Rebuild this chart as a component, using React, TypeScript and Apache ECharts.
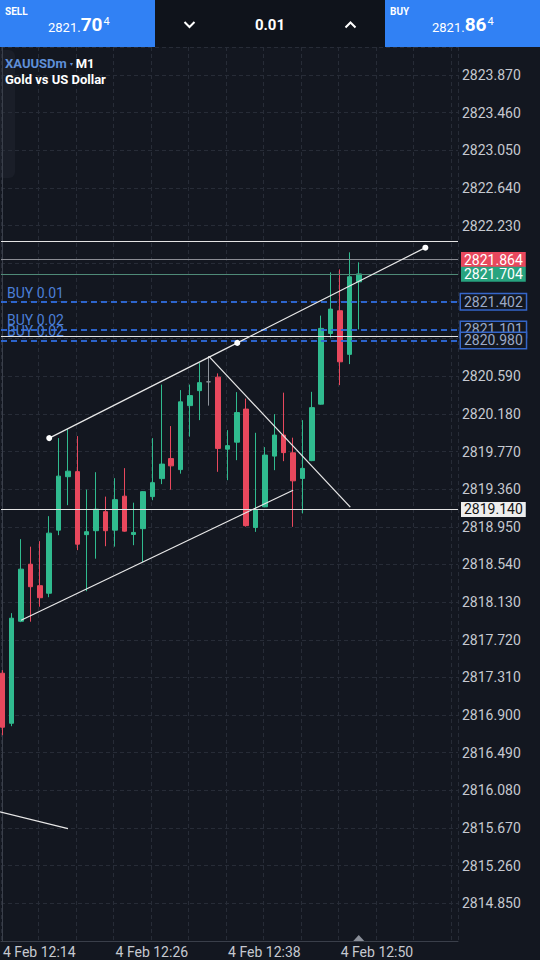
import React, { useEffect, useRef } from 'react';
import * as echarts from 'echarts';

// ---- data (M1 candles, minute index from 12:14) ----
const opens = [2817.356, 2816.811, 2817.922, 2818.543, 2818.309, 2818.227, 2818.914, 2819.496, 2819.551, 2818.865, 2818.908, 2819.115, 2818.914, 2819.284, 2818.867, 2818.930, 2819.279, 2819.475, 2819.693, 2819.573, 2820.270, 2820.433, 2820.529, 2820.580, 2819.796, 2819.872, 2820.232, 2818.943, 2819.168, 2819.720, 2819.949, 2819.756, 2819.477, 2819.671, 2820.286, 2821.056, 2821.303, 2820.828, 2821.618];
const closes = [2816.768, 2817.955, 2818.489, 2818.298, 2818.178, 2818.881, 2819.502, 2819.556, 2818.761, 2818.897, 2819.142, 2818.908, 2819.246, 2818.903, 2818.889, 2819.333, 2819.431, 2819.633, 2819.614, 2820.311, 2820.379, 2820.520, 2820.529, 2819.804, 2819.834, 2820.194, 2818.963, 2819.139, 2819.731, 2819.949, 2819.758, 2819.451, 2819.586, 2820.248, 2821.111, 2821.321, 2820.747, 2821.673, 2821.704];
const lows = [2816.681, 2816.779, 2817.912, 2817.917, 2818.080, 2818.184, 2818.859, 2819.186, 2818.696, 2818.249, 2818.603, 2818.739, 2818.734, 2818.897, 2818.750, 2818.565, 2819.240, 2819.415, 2819.355, 2819.529, 2819.932, 2820.112, 2820.270, 2819.549, 2819.458, 2819.676, 2818.952, 2818.895, 2819.164, 2819.567, 2819.665, 2818.950, 2819.096, 2819.665, 2820.281, 2821.011, 2820.493, 2820.722, 2821.100];
const highs = [2817.389, 2818.010, 2818.816, 2818.734, 2818.794, 2819.066, 2819.916, 2820.014, 2819.938, 2819.355, 2819.545, 2819.279, 2819.480, 2819.589, 2819.213, 2819.338, 2819.916, 2820.499, 2820.047, 2820.439, 2820.499, 2820.733, 2820.809, 2820.621, 2820.003, 2820.417, 2820.346, 2819.974, 2819.818, 2820.177, 2820.411, 2819.921, 2820.112, 2820.420, 2821.250, 2821.721, 2821.753, 2821.939, 2821.830];

const timeLabels = ['4 Feb 12:14', '4 Feb 12:26', '4 Feb 12:38', '4 Feb 12:50'];

const askPrice = 2821.864;
const bidPrice = 2821.704;
const orderPrices = [2821.402, 2821.101, 2820.980];
const orderLabels = ['BUY 0.01', 'BUY 0.02', 'BUY 0.02'];
const plainLines = [2822.062, 2821.027];
const labeledLine = 2819.140;

const upperChannel = [[5, 2819.916], [45.1, 2821.990]];
const lowerChannel = [[2, 2817.933], [31, 2819.349]];
const diagonalLine = [[22, 2820.809], [37.1, 2819.164]];
const oldLine = [[-1, 2815.864], [7, 2815.664]];

const sellParts = ['2821.', '70', '4'];
const buyParts = ['2821.', '86', '4'];
const lotText = '0.01';

// ---- axes ----
const XMIN = -0.14;
const XMAX = 48.58;
const XINT = 4;
const YMIN = 2814.44;
const YMAX = 2824.175;
const YINT = 0.41;

const BG = '#131720';
const GREEN = '#30bb8f';
const RED = '#e8485d';
const BLUE_HDR = '#3181f4';
const ORDER_BLUE = '#2f6ad8';
const FONT = 'Roboto, "Noto Sans", sans-serif';
const LABEL = '#c6c9d0';

export default function App() {
  const ref = useRef<HTMLDivElement>(null);
  useEffect(() => {
    const chart = echarts.init(ref.current!, undefined, { renderer: 'svg' });
    const candleData = opens.map((o, i) => [i, o, closes[i], lows[i], highs[i]]);
    const mid = [(upperChannel[0][0] + upperChannel[1][0]) / 2, (upperChannel[0][1] + upperChannel[1][1]) / 2];
    const boxedPrices = [askPrice, bidPrice, labeledLine, ...orderPrices];

    const boxLabel = (txt: string, bg: string, color: string, border?: string) => ({
      show: true,
      position: 'end',
      distance: 3,
      formatter: txt,
      backgroundColor: bg,
      color,
      borderColor: border || bg,
      borderWidth: border ? 1.5 : 0,
      padding: [1, 3, 0, 3],
      fontSize: 14,
      fontFamily: FONT,
    });

    const markData: any[] = [];
    plainLines.forEach((p) => markData.push({ yAxis: p, lineStyle: { color: '#e4e4e4', width: 1.2, type: 'solid' }, label: { show: false } }));
    markData.push({ yAxis: labeledLine, lineStyle: { color: '#e4e4e4', width: 1.2, type: 'solid' }, label: boxLabel(labeledLine.toFixed(3), '#eeeeee', '#141414') });
    orderPrices.forEach((p, i) => {
      markData.push({
        yAxis: p,
        lineStyle: { color: ORDER_BLUE, width: 1.5, type: [6, 4] },
        label: { show: true, position: 'insideStartTop', distance: [6, 2], formatter: orderLabels[i], color: '#4b7fd8', fontSize: 14, fontFamily: FONT },
      });
    });
    orderPrices.forEach((p) => {
      markData.push({
        yAxis: p,
        lineStyle: { color: ORDER_BLUE, width: 1.5, type: [6, 4] },
        label: boxLabel(p.toFixed(3), BG, '#9aa9c7', '#3566c9'),
      });
    });
    markData.push({ yAxis: askPrice, lineStyle: { color: '#8a8c93', width: 1, type: 'solid' }, label: boxLabel(askPrice.toFixed(3), RED, '#ffffff') });
    markData.push({ yAxis: bidPrice, lineStyle: { color: '#4f8a77', width: 1, type: 'solid' }, label: boxLabel(bidPrice.toFixed(3), '#27a37f', '#ffffff') });

    const option: any = {
      animation: false,
      backgroundColor: BG,
      textStyle: { fontFamily: FONT },
      grid: { left: 0, right: 82, top: 47, bottom: 19 },
      xAxis: {
        type: 'value',
        min: XMIN,
        max: XMAX,
        interval: XINT,
        axisLine: { show: true, lineStyle: { color: '#3a3f4a' } },
        axisTick: { show: false },
        splitLine: { show: true, lineStyle: { color: '#272c37', type: [4, 3], width: 1 } },
        axisLabel: {
          color: LABEL,
          fontSize: 14,
          fontFamily: FONT,
          align: 'left',
          margin: 4,
          padding: [0, 0, 0, 2],
          showMaxLabel: false,
          formatter: (v: number) => {
            const t = (v - XMIN) / XINT;
            const n = Math.round(t);
            if (Math.abs(t - n) > 0.01 || n % 3 !== 0) return '';
            return timeLabels[n / 3] || '';
          },
        },
      },
      yAxis: {
        type: 'value',
        position: 'right',
        min: YMIN,
        max: YMAX,
        interval: YINT,
        scale: true,
        axisLine: { show: true, lineStyle: { color: '#3a3f4a' } },
        axisTick: { show: false },
        splitLine: { show: true, lineStyle: { color: '#272c37', type: [4, 3], width: 1 } },
        axisLabel: {
          color: LABEL,
          fontSize: 14,
          fontFamily: FONT,
          margin: 4,
          showMinLabel: false,
          showMaxLabel: false,
          formatter: (v: number) => (boxedPrices.some((p) => Math.abs(p - v) < 0.09) ? '' : v.toFixed(3)),
        },
      },
      series: [
        {
          type: 'candlestick',
          data: candleData,
          encode: { x: 0, y: [1, 2, 3, 4] },
          barWidth: 5,
          silent: true,
          itemStyle: {
            color: GREEN,
            color0: RED,
            borderColor: GREEN,
            borderColor0: RED,
            borderColorDoji: '#8f949c',
            borderWidth: 1,
          },
          markLine: { symbol: ['none', 'none'], silent: true, animation: false, data: markData },
          markPoint: {
            silent: true,
            animation: false,
            data: [
              {
                coord: [opens.length - 1, YMIN],
                symbol: 'triangle',
                symbolSize: [11, 6],
                symbolOffset: [0, -3],
                itemStyle: { color: '#8a8f99' },
                label: { show: false },
              },
            ],
          },
        },
        {
          type: 'line',
          data: [upperChannel[0], mid, upperChannel[1]],
          symbol: 'circle',
          symbolSize: 6,
          showSymbol: true,
          silent: true,
          z: 5,
          lineStyle: { color: '#e8e8e8', width: 1.2 },
          itemStyle: { color: '#ffffff', borderWidth: 0 },
        },
        ...[lowerChannel, diagonalLine, oldLine].map((d) => ({
          type: 'line',
          data: d,
          showSymbol: false,
          symbol: 'none',
          silent: true,
          z: 5,
          lineStyle: { color: '#e8e8e8', width: 1.2 },
        })),
      ],
      graphic: [
        { type: 'rect', z: -1, shape: { x: -8, y: 50, width: 23, height: 128, r: 6 }, style: { fill: '#1a1e28' } },
        // header
        { type: 'rect', z: 100, shape: { x: 0, y: 0, width: 540, height: 47 }, style: { fill: '#0f131b' } },
        { type: 'rect', z: 101, shape: { x: 0, y: 0, width: 155, height: 47 }, style: { fill: BLUE_HDR } },
        { type: 'rect', z: 101, shape: { x: 385, y: 0, width: 155, height: 47 }, style: { fill: BLUE_HDR } },
        { type: 'text', z: 102, style: { x: 5, y: 6, text: 'SELL', fill: '#fff', fontSize: 10, fontWeight: 'bold', fontFamily: '"Liberation Sans Narrow", Roboto, sans-serif' } },
        { type: 'text', z: 102, style: { x: 390, y: 6, text: 'BUY', fill: '#fff', fontSize: 10, fontWeight: 'bold', fontFamily: '"Liberation Sans Narrow", Roboto, sans-serif' } },
        ...[[48, sellParts], [432, buyParts]].map(([x, parts]: any) => ({
          type: 'text',
          z: 102,
          style: {
            x,
            y: 14,
            text: `{a|${parts[0]}}{b|${parts[1]}}{c|${parts[2]}}`,
            fill: '#fff',
            fontFamily: FONT,
            rich: {
              a: { fontSize: 13, fill: '#fff', color: '#fff', verticalAlign: 'bottom', lineHeight: 20, fontFamily: FONT },
              b: { fontSize: 19, fontWeight: 'bold', fill: '#fff', color: '#fff', verticalAlign: 'bottom', lineHeight: 20, fontFamily: FONT },
              c: { fontSize: 11, fill: '#fff', color: '#fff', verticalAlign: 'top', lineHeight: 20, padding: [2, 0, 0, 1], fontFamily: FONT },
            },
          },
        })),
        { type: 'text', z: 102, style: { x: 270, y: 25, text: lotText, fill: '#fff', fontSize: 15, fontWeight: 'bold', fontFamily: FONT, align: 'center', verticalAlign: 'middle' } },
        { type: 'polyline', z: 102, shape: { points: [[184.5, 22], [189.5, 27], [194.5, 22]] }, style: { stroke: '#fff', lineWidth: 2, fill: 'none' } },
        { type: 'polyline', z: 102, shape: { points: [[345.5, 27.5], [350.5, 22.5], [355.5, 27.5]] }, style: { stroke: '#fff', lineWidth: 2, fill: 'none' } },
        // symbol title
        {
          type: 'text',
          z: 50,
          style: {
            x: 5,
            y: 57,
            text: '{s|XAUUSDm}{d|  ▾  }{m|M1}',
            fontFamily: FONT,
            rich: {
              s: { fontSize: 13, fontWeight: 'bold', fill: '#5f8fd8', color: '#5f8fd8', fontFamily: FONT },
              d: { fontSize: 6, fill: '#5f8fd8', color: '#5f8fd8', fontFamily: FONT },
              m: { fontSize: 13, fontWeight: 'bold', fill: '#fff', color: '#fff', fontFamily: FONT },
            },
          },
        },
        { type: 'text', z: 50, style: { x: 5, y: 73, text: 'Gold vs US Dollar', fill: '#fff', fontSize: 13, fontWeight: 'bold', fontFamily: FONT } },
      ],
    };
    chart.setOption(option);
    return () => chart.dispose();
  }, []);
  return <div ref={ref} style={{ position: 'fixed', left: 0, top: 0, width: 540, height: 960, background: BG }} />;
}
